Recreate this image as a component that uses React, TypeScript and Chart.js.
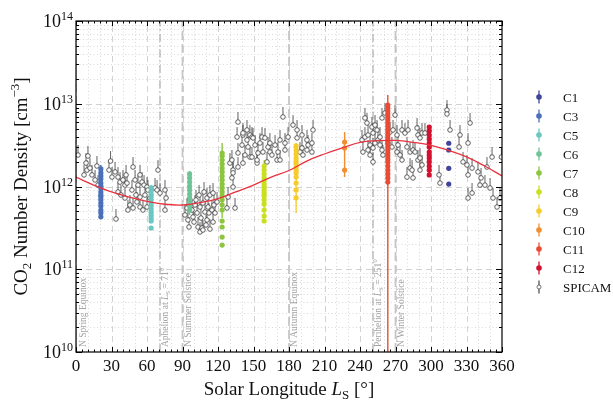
import React, { useEffect, useRef } from "react";
import { Chart, registerables } from "chart.js";
Chart.register(...registerables);

const FONT = '"Liberation Serif", "Times New Roman", Times, serif';
const UNIT = 1e12; // values below are in units of 1e12 cm^-3

const xTicks = [0, 30, 60, 90, 120, 150, 180, 210, 240, 270, 300, 330, 360];
const yTickExps = [10, 11, 12, 13, 14];

// Fit curve (red)
const fitLs = [0, 15, 30, 45, 60, 75, 90, 105, 120, 135, 150, 165, 180, 195, 210, 225, 240, 255, 270, 285, 300, 315, 330, 345, 360];
const fitN = [1.3, 1.04, 0.86, 0.745, 0.66, 0.61, 0.598, 0.64, 0.715, 0.86, 1.04, 1.3, 1.56, 2.03, 2.47, 2.92, 3.42, 3.58, 3.6, 3.42, 3.15, 2.72, 2.28, 1.78, 1.34];

// SPICAM observations
const spicamLs = [
  1.7, 6.8, 8.5, 9.3, 10.1, 11.8, 13.5, 16.1, 17.7, 18.6, 27.9, 29.2, 30.4, 33.0, 33.8, 35.5, 35.5, 37.2, 38.0, 39.7,
  41.4, 41.4, 42.3, 43.1, 43.9, 45.6, 47.3, 48.2, 48.2, 49.9, 50.7, 51.5, 52.4, 54.1, 54.1, 54.1, 55.8, 56.6, 57.5, 58.3,
  60.0, 60.0, 60.8, 62.5, 66.8, 68.5, 69.3, 71.0, 75.2, 75.2, 76.1, 92.1, 93.8, 94.6, 95.5, 96.3, 98.0, 98.9, 99.7, 100.6,
  101.4, 102.3, 103.1, 104.0, 104.8, 104.8, 105.6, 106.5, 107.3, 107.3, 108.2, 109.0, 109.9, 110.7, 110.7, 111.6, 112.4, 113.2, 113.2, 114.9,
  115.8, 115.8, 116.6, 117.5, 119.2, 127.6, 128.5, 130.1, 131.8, 131.8, 132.7, 132.7, 132.7, 134.4, 136.1, 136.9, 136.9, 136.9, 140.3, 141.1,
  141.1, 141.1, 142.8, 144.5, 144.5, 145.4, 147.0, 147.0, 148.7, 148.7, 149.6, 151.3, 153.0, 153.0, 153.8, 155.5, 157.2, 158.0, 159.7, 161.4,
  162.3, 163.9, 163.9, 165.6, 168.2, 169.9, 170.7, 172.4, 172.4, 174.9, 176.6, 176.6, 179.2, 183.4, 186.8, 186.8, 189.3, 191.0, 191.0, 191.8,
  195.2, 195.2, 196.1, 199.4, 199.4, 200.3, 241.7, 242.5, 244.2, 244.2, 245.9, 246.8, 246.8, 248.5, 248.5, 250.1, 251.0, 251.0, 251.0, 252.7,
  252.7, 254.4, 255.2, 256.9, 256.9, 258.6, 258.6, 259.4, 261.1, 263.7, 265.4, 267.0, 267.9, 269.6, 271.3, 271.3, 272.1, 273.8, 275.5, 275.5,
  278.0, 279.7, 279.7, 280.6, 282.3, 282.3, 284.0, 284.8, 284.8, 286.5, 288.2, 289.0, 289.0, 290.7, 290.7, 290.7, 292.4, 292.4, 294.9, 306.8,
  307.6, 313.5, 313.5, 316.1, 323.7, 324.5, 327.1, 330.4, 331.3, 331.3, 331.3, 333.0, 334.7, 334.7, 339.7, 341.4, 342.3, 345.6, 347.3, 349.9,
  351.6, 352.4, 355.8, 358.3, 359.5,
];
const spicamN = [
  2.40, 1.38, 1.92, 1.58, 2.34, 1.67, 1.38, 1.20, 1.77, 1.04, 1.58, 2.03, 1.30, 1.50, 0.405, 1.30, 0.858, 1.13, 0.789, 1.20,
  1.04, 0.726, 1.38, 1.10, 0.520, 0.598, 0.907, 1.72, 0.550, 1.20, 0.789, 0.650, 1.04, 1.38, 0.746, 0.565, 1.13, 0.520, 1.04, 0.789,
  0.986, 0.565, 0.907, 0.726, 0.959, 0.907, 1.58, 0.834, 0.907, 0.520, 0.726, 0.453, 0.550, 0.394, 0.324, 0.687, 0.520, 0.428, 0.372, 0.598,
  0.687, 0.479, 0.324, 0.789, 0.565, 0.282, 0.416, 0.315, 0.632, 0.298, 0.858, 0.492, 0.343, 0.726, 0.394, 0.565, 0.479, 0.789, 0.306, 0.520,
  0.834, 0.372, 0.598, 0.479, 0.650, 0.550, 0.746, 1.92, 1.27, 2.09, 1.58, 1.46, 0.986, 0.550, 3.96, 2.54, 6.01, 1.72, 3.17, 4.19,
  4.43, 1.92, 2.40, 3.65, 4.82, 3.00, 4.19, 2.27, 3.96, 2.27, 3.86, 3.17, 1.92, 2.09, 2.54, 3.35, 3.96, 2.61, 3.86, 1.98,
  3.00, 3.35, 2.61, 2.40, 3.17, 2.09, 2.61, 3.65, 2.09, 6.92, 3.35, 2.76, 3.96, 5.53, 4.82, 3.86, 2.61, 4.19, 2.92, 2.40,
  3.65, 2.76, 3.17, 3.35, 2.61, 4.82, 3.65, 2.61, 6.73, 3.96, 5.85, 4.19, 2.76, 3.17, 2.40, 5.24, 4.43, 2.92, 1.98, 5.53,
  3.35, 4.82, 3.65, 3.96, 3.17, 6.73, 2.76, 2.40, 7.73, 3.35, 4.56, 3.00, 4.82, 7.31, 4.19, 2.61, 3.17, 2.40, 4.82, 2.09,
  4.43, 3.00, 1.30, 4.82, 2.61, 1.67, 1.58, 2.76, 1.27, 2.61, 5.09, 4.19, 2.09, 2.21, 1.58, 3.86, 4.43, 1.82, 4.43, 1.38,
  1.10, 8.40, 7.52, 4.82, 3.00, 4.19, 1.98, 1.82, 3.35, 1.38, 0.726, 5.85, 1.67, 0.834, 1.50, 1.04, 1.27, 1.04, 1.72, 0.959,
  2.27, 0.726, 0.565, 0.726, 2.27,
];
const SPICAM_UP = 1.32; // upper error bar factor

// Campaign series
const seriesNames = ["C1", "C3", "C5", "C6", "C7", "C8", "C9", "C10", "C11", "C12"];
const seriesColors = ["#3f459a", "#4a70b8", "#6cc6c1", "#6fc497", "#8cc63f", "#c9df1f", "#f8cb2c", "#f28e31", "#ea4b35", "#d3112f"];
const seriesLs = [315, 21, 63.5, 96, 123.5, 159, 186, 227, 263.5, 298.5];
const c1N = [3.33, 2.76, 1.66, 1.07];
const c3N = [1.63, 1.46, 1.34, 1.23, 1.10, 1.01, 0.96, 0.86, 0.79, 0.75, 0.69, 0.63, 0.58, 0.52, 0.48, 0.43];
const c5N = [0.96, 0.88, 0.81, 0.75, 0.69, 0.63, 0.58, 0.535, 0.49, 0.45, 0.416, 0.383, 0.315];
const c6N = [1.42, 1.27, 1.13, 1.01, 0.91, 0.81, 0.73, 0.65, 0.58, 0.52];
const c7N = [2.54, 2.34, 2.09, 1.87, 1.67, 1.50, 1.34, 1.20, 1.07, 0.96, 0.86, 0.77, 0.69, 0.60, 0.52, 0.383, 0.324, 0.245, 0.196];
const c8N = [1.77, 1.58, 1.42, 1.27, 1.17, 1.07, 0.99, 0.91, 0.83, 0.77, 0.69, 0.615, 0.52, 0.44, 0.383];
const c9N = [3.09, 2.76, 2.47, 2.21, 2.03, 1.87, 1.72, 1.58, 1.46, 1.30, 1.10, 0.91, 0.73];
const c10N = [3.45, 2.92, 1.58];
const c11N = [9.66, 8.89, 8.17, 7.52, 6.92, 6.37, 5.85, 5.38, 4.95, 4.56, 4.19, 3.86, 3.55, 3.26, 3.00, 2.76, 2.54, 2.34, 2.15, 1.98, 1.77, 1.58, 1.42, 1.27, 1.13];
const c12N = [5.24, 4.69, 4.19, 3.75, 3.35, 3.00, 2.61, 2.40, 2.21, 1.98, 1.77, 1.58, 1.38];
const seriesValues = [c1N, c3N, c5N, c6N, c7N, c8N, c9N, c10N, c11N, c12N];
const seriesBarLo = [null, 0.405, 0.372, 0.453, 0.416, 0.372, 0.479, 1.30, 0.001, 1.38];
const seriesBarHi = [null, 1.82, 1.04, 1.54, 3.35, 2.09, 3.35, 4.56, 12.8, 5.24];

// Reference lines
const refLs = [0, 71, 90, 180, 251, 270];
const refKinds = ["season", "orbit", "season", "season", "orbit", "season"];
const refTexts = [
  [["N Spring Equinox"]],
  [["Aphelion at "], ["L", "i"], ["S", "sub"], [" = 71°"]],
  [["N Summer Solstice"]],
  [["N Autumn Equinox"]],
  [["Perihelion at "], ["L", "i"], ["S", "sub"], [" = 251°"]],
  [["N Winter Solstice"]],
];

type Piece = { t: string; size: number; italic?: boolean; dy?: number };

function fontOf(p: Piece) {
  return `${p.italic ? "italic " : ""}${p.size}px ${FONT}`;
}
function drawPieces(ctx: CanvasRenderingContext2D, pieces: Piece[], x: number, y: number, align: string) {
  let w = 0;
  for (const p of pieces) {
    ctx.font = fontOf(p);
    w += ctx.measureText(p.t).width;
  }
  let cx = align === "left" ? x : align === "center" ? x - w / 2 : x - w;
  ctx.textAlign = "left";
  ctx.textBaseline = "alphabetic";
  for (const p of pieces) {
    ctx.font = fontOf(p);
    ctx.fillText(p.t, cx, y + (p.dy || 0));
    cx += ctx.measureText(p.t).width;
  }
}

const decor = {
  id: "decor",
  beforeDatasetsDraw(chart: any) {
    const { ctx, chartArea: a, scales } = chart;
    const xs = scales.x;
    const ys = scales.y;
    ctx.save();
    ctx.beginPath();
    ctx.rect(a.left, a.top, a.right - a.left, a.bottom - a.top);
    ctx.clip();

    // minor grid (dotted)
    ctx.strokeStyle = "#cfcfcf";
    ctx.lineWidth = 0.8;
    ctx.setLineDash([1, 2.5]);
    for (let v = 10; v < 360; v += 10) {
      if (v % 30 === 0) continue;
      const px = Math.round(xs.getPixelForValue(v)) + 0.5;
      ctx.beginPath();
      ctx.moveTo(px, a.top);
      ctx.lineTo(px, a.bottom);
      ctx.stroke();
    }
    for (let e = 10; e < 14; e++) {
      for (let m = 2; m <= 9; m++) {
        const py = Math.round(ys.getPixelForValue(m * Math.pow(10, e))) + 0.5;
        ctx.beginPath();
        ctx.moveTo(a.left, py);
        ctx.lineTo(a.right, py);
        ctx.stroke();
      }
    }
    // major grid (dashed)
    ctx.strokeStyle = "#d2d2d2";
    ctx.lineWidth = 1;
    ctx.setLineDash([6, 4]);
    for (const v of xTicks) {
      const px = Math.round(xs.getPixelForValue(v)) + 0.5;
      ctx.beginPath();
      ctx.moveTo(px, a.bottom);
      ctx.lineTo(px, a.top);
      ctx.stroke();
    }
    for (const e of yTickExps) {
      const py = Math.round(ys.getPixelForValue(Math.pow(10, e))) + 0.5;
      ctx.beginPath();
      ctx.moveTo(a.left, py);
      ctx.lineTo(a.right, py);
      ctx.stroke();
    }

    // reference lines
    refLs.forEach((ls, i) => {
      const px = xs.getPixelForValue(ls);
      if (refKinds[i] === "season") {
        ctx.strokeStyle = "#c6c6c6";
        ctx.lineWidth = 1.8;
        ctx.setLineDash([9, 4]);
      } else {
        ctx.strokeStyle = "#9d9d9d";
        ctx.lineWidth = 1;
        ctx.setLineDash([8, 3, 1.5, 3]);
      }
      ctx.beginPath();
      ctx.moveTo(px, a.bottom);
      ctx.lineTo(px, a.top);
      ctx.stroke();
    });
    ctx.setLineDash([]);
    ctx.fillStyle = "#a3a3a3";
    refLs.forEach((ls, i) => {
      const px = xs.getPixelForValue(ls) + (i === 0 ? 9.5 : 8);
      const pieces: Piece[] = refTexts[i].map((r: any) => ({
        t: r[0],
        size: r[1] === "sub" ? 7 : 9.5,
        italic: r[1] === "i",
        dy: r[1] === "sub" ? 2 : 0,
      }));
      ctx.save();
      ctx.translate(px, a.bottom - 5);
      ctx.rotate(-Math.PI / 2);
      drawPieces(ctx, pieces, 0, 0, "left");
      ctx.restore();
    });

    // error bars: campaign series
    seriesNames.forEach((_, i) => {
      const lo = seriesBarLo[i];
      const hi = seriesBarHi[i];
      if (lo == null || hi == null) return;
      const px = xs.getPixelForValue(seriesLs[i]);
      ctx.strokeStyle = seriesColors[i];
      ctx.lineWidth = 1.4;
      ctx.beginPath();
      ctx.moveTo(px, ys.getPixelForValue(lo * UNIT));
      ctx.lineTo(px, ys.getPixelForValue(hi * UNIT));
      ctx.stroke();
    });
    // error bars: SPICAM (upper)
    ctx.strokeStyle = "#3a3a3a";
    ctx.lineWidth = 0.8;
    spicamLs.forEach((ls, i) => {
      const px = xs.getPixelForValue(ls);
      ctx.beginPath();
      ctx.moveTo(px, ys.getPixelForValue(spicamN[i] * UNIT));
      ctx.lineTo(px, ys.getPixelForValue(spicamN[i] * SPICAM_UP * UNIT));
      ctx.stroke();
    });
    ctx.restore();
  },
  afterDraw(chart: any) {
    const { ctx, chartArea: a, scales } = chart;
    const xs = scales.x;
    const ys = scales.y;
    ctx.save();
    ctx.strokeStyle = "#000";
    ctx.lineWidth = 1;
    ctx.setLineDash([]);
    // ticks
    for (let v = 0; v <= 360; v += 5) {
      const px = Math.round(xs.getPixelForValue(v)) + 0.5;
      const len = v % 30 === 0 ? 5 : 2.5;
      ctx.beginPath();
      ctx.moveTo(px, a.bottom);
      ctx.lineTo(px, a.bottom - len);
      ctx.moveTo(px, a.top);
      ctx.lineTo(px, a.top + len);
      ctx.stroke();
    }
    for (let e = 10; e <= 14; e++) {
      for (let m = 1; m <= 9; m++) {
        if (e === 14 && m > 1) break;
        const py = Math.round(ys.getPixelForValue(m * Math.pow(10, e))) + 0.5;
        const len = m === 1 ? 6 : 3;
        ctx.beginPath();
        ctx.moveTo(a.left, py);
        ctx.lineTo(a.left + len, py);
        ctx.moveTo(a.right, py);
        ctx.lineTo(a.right - len, py);
        ctx.stroke();
      }
    }
    // frame
    ctx.lineWidth = 1.2;
    ctx.strokeRect(a.left, a.top, a.right - a.left, a.bottom - a.top);

    ctx.fillStyle = "#111";
    // x tick labels
    for (const v of xTicks) {
      drawPieces(ctx, [{ t: String(v), size: 17 }], xs.getPixelForValue(v), a.bottom + 19, "center");
    }
    // y tick labels
    for (const e of yTickExps) {
      const py = ys.getPixelForValue(Math.pow(10, e));
      drawPieces(
        ctx,
        [
          { t: "10", size: 18, dy: 6 },
          { t: String(e), size: 12, dy: -1 },
        ],
        a.left - 3,
        py,
        "right"
      );
    }
    // x title
    drawPieces(
      ctx,
      [
        { t: "Solar Longitude ", size: 19 },
        { t: "L", size: 19, italic: true },
        { t: "S", size: 13, dy: 4 },
        { t: " [°]", size: 19 },
      ],
      (a.left + a.right) / 2,
      395,
      "center"
    );
    // y title
    ctx.save();
    ctx.translate(27, (a.top + a.bottom) / 2);
    ctx.rotate(-Math.PI / 2);
    drawPieces(
      ctx,
      [
        { t: "CO", size: 19 },
        { t: "2", size: 13, dy: 4 },
        { t: " Number Density [cm", size: 19 },
        { t: "−3", size: 13, dy: -8 },
        { t: "]", size: 19 },
      ],
      0,
      0,
      "center"
    );
    ctx.restore();

    // legend
    const lx = 539;
    const names = [...seriesNames, "SPICAM"];
    names.forEach((name, i) => {
      const y = 97 + i * 19;
      const isSp = i === seriesNames.length;
      const col = isSp ? "#555" : seriesColors[i];
      ctx.strokeStyle = col;
      ctx.lineWidth = 1.3;
      ctx.beginPath();
      ctx.moveTo(lx, y - 6.5);
      ctx.lineTo(lx, y + 6.5);
      ctx.stroke();
      ctx.beginPath();
      ctx.arc(lx, y, isSp ? 2 : 2.8, 0, Math.PI * 2);
      if (isSp) {
        ctx.fillStyle = "#fff";
        ctx.fill();
        ctx.lineWidth = 0.8;
        ctx.stroke();
      } else {
        ctx.fillStyle = col;
        ctx.fill();
      }
      ctx.fillStyle = "#111";
      drawPieces(ctx, [{ t: name, size: 13 }], 563, y + 4.5, "left");
    });
    ctx.restore();
  },
};

export default function App() {
  const ref = useRef<HTMLCanvasElement>(null);
  useEffect(() => {
    document.body.style.margin = "0";
    const canvas = ref.current!;
    const datasets: any[] = [];
    datasets.push({
      type: "line",
      label: "fit",
      data: fitLs.map((l, i) => ({ x: l, y: fitN[i] * UNIT })),
      borderColor: "#e8333f",
      borderWidth: 1.3,
      pointRadius: 0,
      tension: 0.4,
      fill: false,
      order: 0,
    });
    seriesNames.forEach((name, i) => {
      datasets.push({
        type: "scatter",
        label: name,
        data: seriesValues[i].map((v) => ({ x: seriesLs[i], y: v * UNIT })),
        backgroundColor: seriesColors[i],
        borderWidth: 0,
        pointRadius: 2.6,
        order: 1,
      });
    });
    datasets.push({
      type: "scatter",
      label: "SPICAM",
      data: spicamLs.map((l, i) => ({ x: l, y: spicamN[i] * UNIT })),
      backgroundColor: "#ffffff",
      borderColor: "#3a3a3a",
      borderWidth: 0.8,
      pointRadius: 2.3,
      order: 2,
    });
    const chart = new Chart(canvas, {
      type: "scatter",
      data: { datasets },
      options: {
        responsive: false,
        animation: false,
        devicePixelRatio: 1,
        layout: { padding: { top: 21, right: 111, left: 0, bottom: 0 } },
        plugins: { legend: { display: false }, tooltip: { enabled: false } },
        scales: {
          x: {
            type: "linear",
            min: 0,
            max: 360,
            grid: { display: false },
            border: { display: false },
            ticks: { display: false },
            afterFit(s: any) {
              s.height = 50;
            },
          },
          y: {
            type: "logarithmic",
            min: 1e10,
            max: 1e14,
            grid: { display: false },
            border: { display: false },
            ticks: { display: false },
            afterFit(s: any) {
              s.width = 76;
            },
          },
        },
      } as any,
      plugins: [decor as any],
    });
    return () => chart.destroy();
  }, []);
  return (
    <div style={{ width: 613, height: 402 }}>
      <canvas ref={ref} width={613} height={402} style={{ display: "block" }} />
    </div>
  );
}
